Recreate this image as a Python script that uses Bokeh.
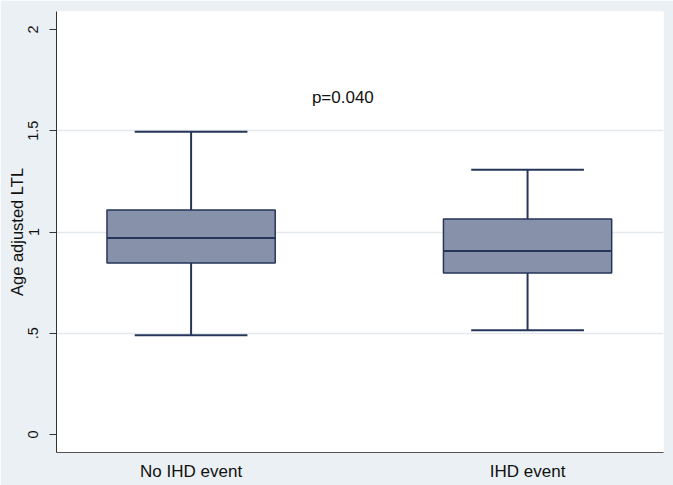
from bokeh.plotting import figure
from bokeh.models import Range1d, FixedTicker, Label, ColumnDataSource
from bokeh.embed import file_html
from bokeh.resources import INLINE

# ---- data ----
categories = ["No IHD event", "IHD event"]
lower_whisker = [0.490, 0.515]
q1 = [0.847, 0.797]
median = [0.970, 0.906]
q3 = [1.109, 1.064]
upper_whisker = [1.495, 1.307]
y_ticks = [0, 0.5, 1, 1.5, 2]
y_tick_labels = ["0", ".5", "1", "1.5", "2"]
grid_values = [0.5, 1, 1.5]
p_value_text = "p=0.040"

# ---- styles ----
FONT = "Liberation Sans"
BG = "#EAF0F3"
BOX_FILL = "#8792AA"
BOX_LINE = "#26365A"
GRID = "#E3E9ED"

BOX_W = 0.5
CAP_W = 0.335

xs = [i + 1 for i in range(len(categories))]
src = ColumnDataSource(dict(
    x=xs,
    x0c=[x - CAP_W / 2 for x in xs],
    x1c=[x + CAP_W / 2 for x in xs],
    x0b=[x - BOX_W / 2 for x in xs],
    x1b=[x + BOX_W / 2 for x in xs],
    lw=lower_whisker, q1=q1, med=median, q3=q3, uw=upper_whisker,
))

p = figure(
    frame_width=607, frame_height=441,
    x_range=Range1d(0.6, 2.404), y_range=Range1d(-0.089, 2.089),
    output_backend="svg", toolbar_location=None,
    min_border_left=56, min_border_top=11, min_border_right=10, min_border_bottom=33,
    border_fill_color=BG, background_fill_color="white",
)
p.outline_line_color = None

# whiskers
p.segment(x0="x", y0="q3", x1="x", y1="uw", source=src, line_color=BOX_LINE, line_width=2)
p.segment(x0="x", y0="lw", x1="x", y1="q1", source=src, line_color=BOX_LINE, line_width=2)
# caps
p.segment(x0="x0c", y0="uw", x1="x1c", y1="uw", source=src, line_color=BOX_LINE, line_width=2)
p.segment(x0="x0c", y0="lw", x1="x1c", y1="lw", source=src, line_color=BOX_LINE, line_width=2)
# boxes
p.vbar(x="x", width=BOX_W, bottom="q1", top="q3", source=src,
       fill_color=BOX_FILL, line_color=BOX_LINE, line_width=1.5)
# medians
p.segment(x0="x0b", y0="med", x1="x1b", y1="med", source=src, line_color=BOX_LINE, line_width=2)

p.add_layout(Label(x=1.451, y=1.665, text=p_value_text, text_align="center",
                   text_baseline="middle", text_font=FONT, text_font_size="17px",
                   text_color="#111111"))

# grid
p.xgrid.visible = False
p.ygrid.ticker = FixedTicker(ticks=grid_values)
p.ygrid.grid_line_color = GRID
p.ygrid.grid_line_width = 1.5

# y axis
p.yaxis.ticker = FixedTicker(ticks=y_ticks)
p.yaxis.major_label_overrides = {t: l for t, l in zip(y_ticks, y_tick_labels)}
p.yaxis.major_label_orientation = "vertical"
p.yaxis.major_label_text_font = FONT
p.yaxis.major_label_text_font_size = "14.5px"
p.yaxis.major_label_text_color = "#111111"
p.yaxis.major_label_standoff = 11
p.yaxis.major_tick_out = 7
p.yaxis.major_tick_in = 0
p.yaxis.minor_tick_line_color = None
p.yaxis.axis_line_color = "#333333"
p.yaxis.major_tick_line_color = "#333333"
p.yaxis.axis_label = "Age adjusted LTL"
p.yaxis.axis_label_text_font = FONT
p.yaxis.axis_label_text_font_size = "16.5px"
p.yaxis.axis_label_text_font_style = "normal"
p.yaxis.axis_label_text_color = "#111111"
p.yaxis.axis_label_standoff = 0

# x axis
p.xaxis.ticker = FixedTicker(ticks=xs)
p.xaxis.major_label_overrides = {x: c for x, c in zip(xs, categories)}
p.xaxis.major_label_text_font = FONT
p.xaxis.major_label_text_font_size = "17px"
p.xaxis.major_label_text_color = "#111111"
p.xaxis.major_label_standoff = 3
p.xaxis.major_tick_line_color = None
p.xaxis.minor_tick_line_color = None
p.xaxis.axis_line_color = "#555555"

open("out.html", "w").write(file_html(p, INLINE))
